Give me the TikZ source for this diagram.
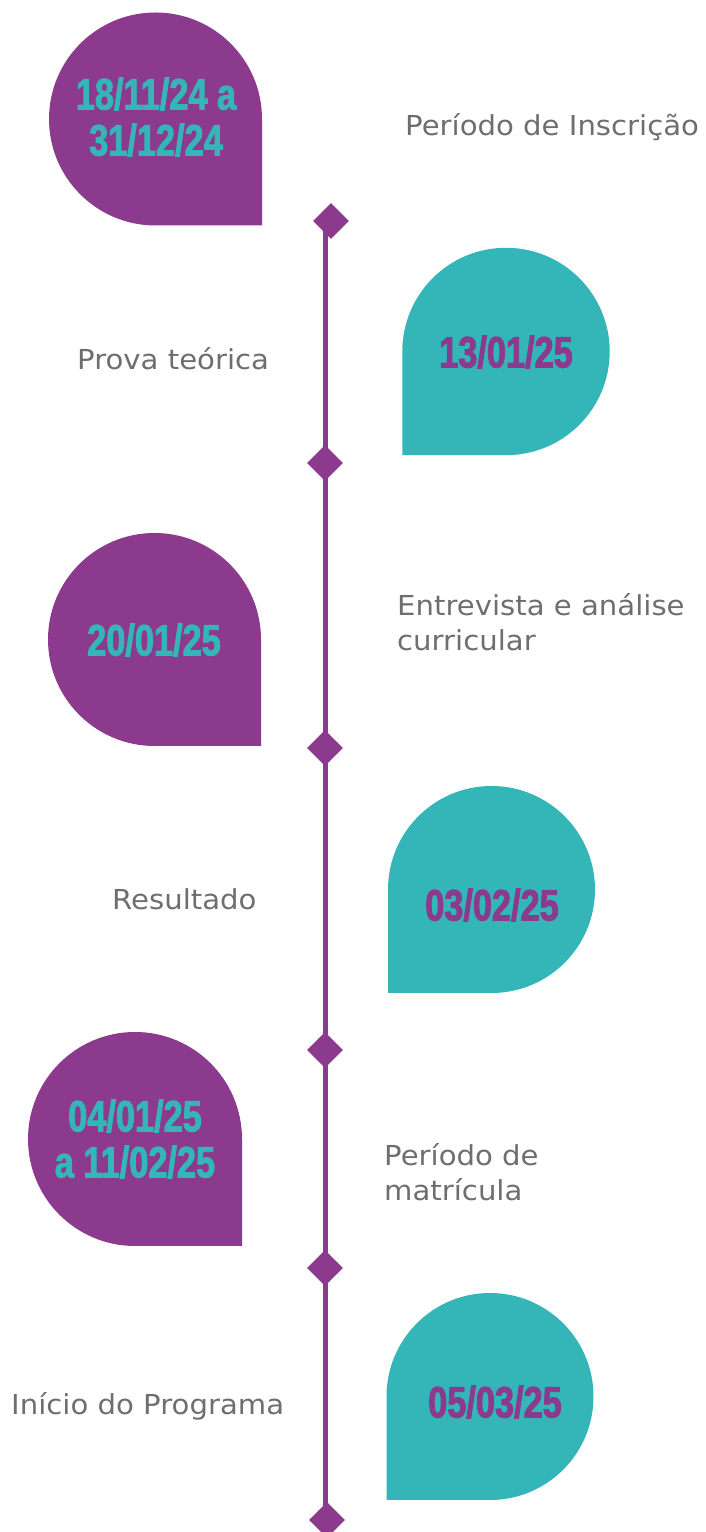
\documentclass[tikz,border=0pt]{standalone}
\usepackage{fontspec}
\setmainfont[FakeStretch=1.06]{DejaVu Sans}
\newfontfamily\datefont[FakeStretch=0.78,BoldFeatures={FakeBold=2}]{Liberation Sans}
\usetikzlibrary{shapes.geometric,backgrounds}
\definecolor{purp}{HTML}{8B3A8E}
\definecolor{teal2}{HTML}{34B5B7}
\definecolor{txtgray}{HTML}{6E6E6E}
\tikzset{
  datetxt/.style={font=\datefont\bfseries\fontsize{44}{46}\selectfont, align=center, inner sep=0pt},
  ondark/.style={datetxt, text=teal2},
  onteal/.style={datetxt, text=purp},
  label/.style={font=\fontsize{27.5}{35}\selectfont, text=txtgray, align=left, anchor=west, inner sep=0pt},
  marker/.style={diamond, fill=purp, minimum width=36pt, minimum height=36pt, inner sep=0pt},
  tl/.style={draw=purp, line width=5pt},
}
\newcommand{\dropL}[4]{% color, cx, cy(y-up), r : corner bottom-right
  \fill[#1] (#2+#4,#3) -- (#2+#4,#3-#4) -- (#2,#3-#4) arc[start angle=270, end angle=0, radius=#4] -- cycle;}
\newcommand{\dropR}[4]{% color, cx, cy, r : corner bottom-left
  \fill[#1] (#2-#4,#3) -- (#2-#4,#3-#4) -- (#2,#3-#4) arc[start angle=-90, end angle=180, radius=#4] -- cycle;}
\begin{document}
\begin{tikzpicture}[x=1pt,y=1pt]
\useasboundingbox (0,0) rectangle (706,1532);
% teardrops (y-up: Y = 1532 - y)
\dropL{purp}{155.5}{1413}{106.5}
\dropR{teal2}{506}{1180.5}{103.7}
\dropL{purp}{154.5}{892.5}{106.5}
\dropR{teal2}{491.5}{642.5}{103.5}
\dropL{purp}{135}{393}{107}
\dropR{teal2}{490}{135.5}{103.5}
% dates
\node[ondark] (t1) at (156,1415) {18/11/24 a\\31/12/24};
\node[onteal] (t2) at (506,1180) {13/01/25};
\node[ondark] (t3) at (154,892) {20/01/25};
\node[onteal] (t4) at (492,627) {03/02/25};
\node[ondark] (t5) at (135,393) {04/01/25\\a 11/02/25};
\node[onteal] (t6) at (495,130) {05/03/25};
% labels
\node[label] (l1) at (405,1405) {Período de Inscrição};
\node[label] (l2) at (77,1173) {Prova teórica};
\node[label] (l3) at (397,910) {Entrevista e análise\\curricular};
\node[label] (l4) at (112,633) {Resultado};
\node[label] (l5) at (384,360) {Período de\\matrícula};
\node[label] (l6) at (11,126) {Início do Programa};
% timeline
\node[marker] (d1) at (331,1311) {};
\node[marker] (d2) at (325,1069) {};
\node[marker] (d3) at (325,784) {};
\node[marker] (d4) at (325,482) {};
\node[marker] (d5) at (325,264) {};
\node[marker] (d6) at (327,12) {};
\begin{scope}[on background layer]
\draw[tl] (d2 |- d1.center) -- (d2.center) -- (d3.center) -- (d4.center) -- (d5.center) -- (d5 |- d6.center);
\end{scope}
\end{tikzpicture}
\end{document}
